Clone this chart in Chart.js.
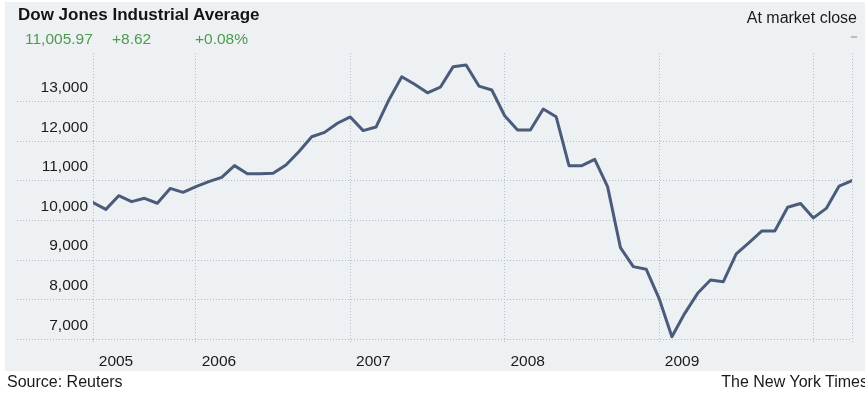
<!DOCTYPE html>
<html><head><meta charset="utf-8">
<script src="https://cdn.jsdelivr.net/npm/chart.js@4.4.0/dist/chart.umd.min.js"></script>
<style>
html,body{margin:0;padding:0;background:#fff;width:865px;height:394px;overflow:hidden;font-family:"Liberation Sans",Arial,Helvetica,sans-serif;}
#panel{position:absolute;left:5px;top:2px;width:860px;height:369px;background:#eef1f3;}
#wrap{position:absolute;left:0;top:0;width:865px;height:394px;}
.t{position:absolute;white-space:nowrap;line-height:1;}
</style></head><body>
<div id="panel"></div>
<div id="wrap"><canvas id="c" width="865" height="394"></canvas></div>
<div class="t" style="left:18px;top:6px;font-size:17px;font-weight:bold;color:#141414">Dow Jones Industrial Average</div>
<div class="t" style="left:25px;top:31px;font-size:15.5px;color:#4e9a4e">11,005.97</div>
<div class="t" style="left:112px;top:31px;font-size:15.5px;color:#4e9a4e">+8.62</div>
<div class="t" style="left:195px;top:31px;font-size:15.5px;color:#4e9a4e">+0.08%</div>
<div class="t" style="right:8px;top:10px;font-size:16px;color:#1a1a1a">At market close</div>
<div style="position:absolute;left:851px;top:36px;width:6px;height:2px;background:#b8bdc2"></div>
<div class="t" style="left:7px;top:374px;font-size:16px;color:#1a1a1a">Source: Reuters</div>
<div class="t" style="right:-3px;top:374px;font-size:16px;color:#1a1a1a">The New York Times</div>
<script>
const months = ['2005-05','2005-06','2005-07','2005-08','2005-09','2005-10','2005-11','2005-12',
 '2006-01','2006-02','2006-03','2006-04','2006-05','2006-06','2006-07','2006-08','2006-09','2006-10','2006-11','2006-12',
 '2007-01','2007-02','2007-03','2007-04','2007-05','2007-06','2007-07','2007-08','2007-09','2007-10','2007-11','2007-12',
 '2008-01','2008-02','2008-03','2008-04','2008-05','2008-06','2008-07','2008-08','2008-09','2008-10','2008-11','2008-12',
 '2009-01','2009-02','2009-03','2009-04','2009-05','2009-06','2009-07','2009-08','2009-09','2009-10','2009-11','2009-12',
 '2010-01','2010-02','2010-03','2010-04'];
const closes = [10450,10280,10625,10475,10560,10435,10810,10710,
 10855,10980,11090,11385,11180,11180,11190,11400,11735,12115,12225,12455,
 12615,12270,12360,13045,13630,13440,13225,13365,13885,13925,13395,13295,
 12645,12285,12285,12815,12620,11385,11385,11545,10855,9315,8835,8770,
 8035,7065,7655,8160,8495,8455,9155,9440,9735,9735,10335,10430,
 10065,10305,10870,11005];
const yearTicks = ['2005-05','2006-01','2007-01','2008-01','2009-01','2010-01','2010-04'];
const yearLabels = ['2005','2006','2007','2008','2009','',''];
const valueTicks = [7000,8000,9000,10000,11000,12000,13000];
const valueMin = 6880, valueMax = 14230;

function monthIndex(s){const p=s.split('-');return (+p[0]-2005)*12+(+p[1]-1);}
const points = months.map((m,i)=>({x:monthIndex(m),y:closes[i]}));
const tickPos = yearTicks.map(monthIndex);

const gridColor = '#b6bcc2';
new Chart(document.getElementById('c'),{
  type:'line',
  data:{datasets:[{data:points,borderColor:'#4a5b7b',borderWidth:3,pointRadius:0,tension:0,fill:false,borderJoinStyle:'round',borderCapStyle:'round'}]},
  options:{
    responsive:false,animation:false,devicePixelRatio:1,
    layout:{padding:{left:17,right:13,top:53,bottom:22}},
    plugins:{legend:{display:false},tooltip:{enabled:false}},
    scales:{
      x:{type:'linear',min:monthIndex(months[0]),max:monthIndex(months[months.length-1]),
        afterBuildTicks:s=>{s.ticks=tickPos.map(v=>({value:v}));},
        afterFit:s=>{s.height=28;},
        grid:{color:gridColor,lineWidth:1,drawTicks:false,borderDash:[1,2]},
        border:{display:false,dash:[1,2]},
        ticks:{autoSkip:false,maxRotation:0,minRotation:0,labelOffset:23,padding:8,color:'#1a1a1a',
          font:{family:'"Liberation Sans", Arial, sans-serif',size:15.5},
          callback:v=>{const i=tickPos.indexOf(v);return i>=0?yearLabels[i]:'';}}
      },
      y:{type:'linear',min:valueMin,max:valueMax,
        afterBuildTicks:s=>{s.ticks=valueTicks.map(v=>({value:v}));},
        afterFit:s=>{s.width=76;},
        grid:{color:gridColor,lineWidth:1,drawTicks:true,tickLength:76,tickColor:gridColor,tickBorderDash:[1,2],borderDash:[1,2]},
        border:{display:false,dash:[1,2]},
        ticks:{padding:-71,labelOffset:-14,color:'#1a1a1a',
          font:{family:'"Liberation Sans", Arial, sans-serif',size:15.5},
          callback:v=>v.toLocaleString('en-US')}
      }
    }
  }
});
</script>
</body></html>
